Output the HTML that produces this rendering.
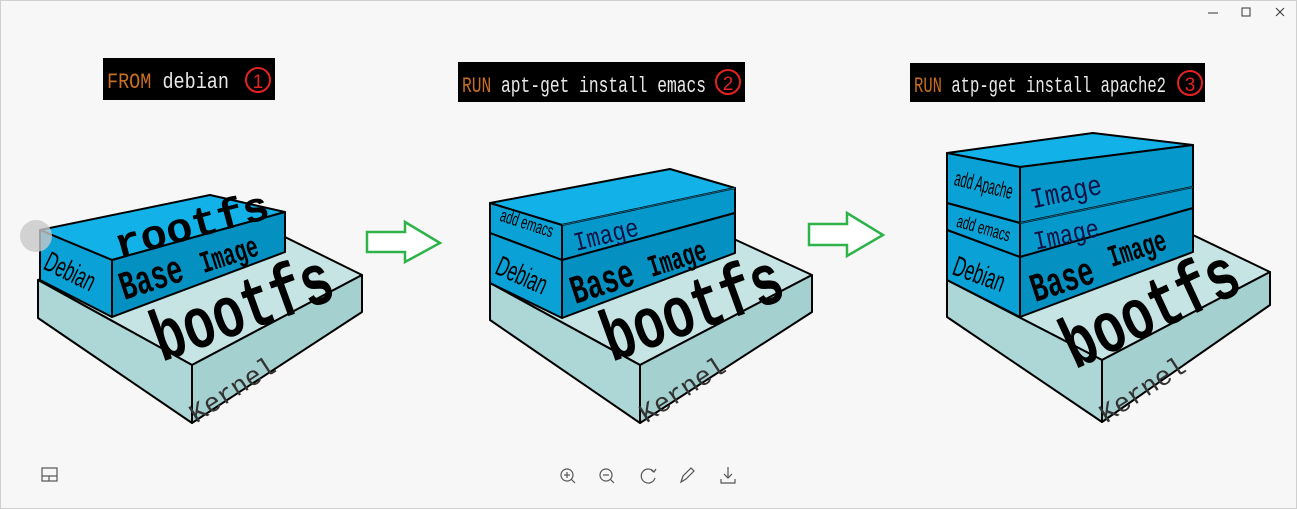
<!DOCTYPE html>
<html><head><meta charset="utf-8"><style>
html,body{margin:0;padding:0;background:#f7f7f8;}
svg{display:block}
.m{font-family:"Liberation Mono",monospace}
.s{font-family:"Liberation Sans",sans-serif}
</style></head><body>
<svg width="1297" height="509" viewBox="0 0 1297 509" xmlns="http://www.w3.org/2000/svg">
<rect x="0" y="0" width="1297" height="509" fill="#f7f7f8"/>
<rect x="0.5" y="0.5" width="1296" height="508" fill="none" stroke="#d0d0d0"/>
<g stroke="#333" stroke-width="1" fill="none">
<line x1="1208" y1="13" x2="1218" y2="13"/>
<rect x="1242" y="8" width="8" height="8"/>
<line x1="1276" y1="8" x2="1284" y2="16"/><line x1="1284" y1="8" x2="1276" y2="16"/>
</g>
<!-- headers -->
<rect x="103" y="58" width="172" height="42" fill="#000"/>
<text x="107" y="88" class="m" font-size="22" fill="#e8e8e8" textLength="122" lengthAdjust="spacingAndGlyphs"><tspan fill="#c86e1e">FROM</tspan> debian</text>
<circle cx="258" cy="80" r="12" fill="none" stroke="#e52222" stroke-width="2"/>
<text x="258" y="88" class="s" font-size="19" fill="#e52222" text-anchor="middle">1</text>

<rect x="458" y="62" width="287" height="40" fill="#000"/>
<text x="462" y="92" class="m" font-size="22" fill="#e8e8e8" textLength="244" lengthAdjust="spacingAndGlyphs"><tspan fill="#c86e1e">RUN</tspan> apt-get install emacs</text>
<circle cx="728" cy="82" r="12" fill="none" stroke="#e52222" stroke-width="2"/>
<text x="728" y="90" class="s" font-size="19" fill="#e52222" text-anchor="middle">2</text>

<rect x="910" y="63" width="295" height="39" fill="#000"/>
<text x="914" y="92" class="m" font-size="22" fill="#e8e8e8" textLength="252" lengthAdjust="spacingAndGlyphs"><tspan fill="#c86e1e">RUN</tspan> atp-get install apache2</text>
<circle cx="1190" cy="83" r="12" fill="none" stroke="#e52222" stroke-width="2"/>
<text x="1190" y="91" class="s" font-size="19" fill="#e52222" text-anchor="middle">3</text>

<!-- arrows -->
<polygon points="367,232 405,232 405,222 440,243 405,262 405,252 367,252" fill="#fff" stroke="#2db34a" stroke-width="2.5"/>
<polygon points="809,224 847,224 847,213 883,235 847,256 847,245 809,245" fill="#fff" stroke="#2db34a" stroke-width="2.5"/>

<g stroke="#000" stroke-width="2" stroke-linejoin="round">
<polygon points="38,280 210,200 362,275 192,365" fill="#c6e4e3"/>
<polygon points="38,280 192,365 192,423 38,318" fill="#add6d6"/>
<polygon points="192,365 362,275 362,312 192,423" fill="#a4d0cf"/>
<polygon points="40,230 210,195 285,212 112,260" fill="#12b2e8"/>
<polygon points="40,230 112,260 112,317 40,280" fill="#0aa2d6"/>
<polygon points="112,260 285,212 285,252 112,317" fill="#0590c2"/>

<polygon points="490,283 660,205 812,275 640,365" fill="#c6e4e3"/>
<polygon points="490,283 640,365 640,423 490,320" fill="#add6d6"/>
<polygon points="640,365 812,275 812,312 640,423" fill="#a4d0cf"/>
<polygon points="490,203 670,169 735,188 562,225" fill="#12b2e8"/>
<polygon points="490,203 562,225 562,260 490,233" fill="#0aa2d6"/>
<polygon points="490,233 562,260 562,318 490,283" fill="#0aa2d6"/>
<polygon points="562,225 735,188 735,213 562,260" fill="#0598cb"/>
<polygon points="562,260 735,213 735,253 562,318" fill="#0590c2"/>

<polygon points="947,280 1120,200 1270,272 1102,360" fill="#c6e4e3"/>
<polygon points="947,280 1102,360 1102,422 947,317" fill="#add6d6"/>
<polygon points="1102,360 1270,272 1270,305 1102,422" fill="#a4d0cf"/>
<polygon points="947,153 1093,133 1193,145 1020,167" fill="#12b2e8"/>
<polygon points="947,153 1020,167 1020,223 947,203" fill="#0aa2d6"/>
<polygon points="947,203 1020,223 1020,257 947,230" fill="#0aa2d6"/>
<polygon points="947,230 1020,257 1020,317 947,280" fill="#0aa2d6"/>
<polygon points="1020,167 1193,145 1193,187 1020,223" fill="#0598cb"/>
<polygon points="1020,223 1193,187 1193,208 1020,257" fill="#0598cb"/>
<polygon points="1020,257 1193,208 1193,252 1020,317" fill="#0590c2"/>
</g>
<g stroke="#0a6d92" stroke-width="1">
<line x1="1020" y1="223" x2="1193" y2="187"/>
<line x1="562" y1="225" x2="735" y2="188"/>
</g>

<!-- texts diagram 1 -->
<g class="m" font-weight="bold" fill="#000">
<text transform="translate(195,238) rotate(-15) scale(1,0.95)" font-size="44" text-anchor="middle">rootfs</text>
<text transform="translate(155,290) rotate(-18) scale(0.9,1.35)" font-size="30" text-anchor="middle">Base</text>
<text transform="translate(232,264) rotate(-18) scale(0.9,1.4)" font-size="22" text-anchor="middle">Image</text>
<text transform="translate(250,330) rotate(-20) scale(1,1.4)" font-size="52" text-anchor="middle">bootfs</text>
</g>
<text transform="translate(237,397) rotate(-33)" class="m" font-size="27" fill="#333" text-anchor="middle">Kernel</text>
<text transform="translate(66,280) rotate(26) scale(0.8,1.35)" class="s" font-size="21" fill="#000" text-anchor="middle">Debian</text>

<!-- texts diagram 2 -->
<g class="m" font-weight="bold" fill="#000">
<text transform="translate(606,294) rotate(-18) scale(0.9,1.35)" font-size="30" text-anchor="middle">Base</text>
<text transform="translate(680,268) rotate(-18) scale(0.9,1.4)" font-size="22" text-anchor="middle">Image</text>
<text transform="translate(700,330) rotate(-20) scale(1,1.4)" font-size="52" text-anchor="middle">bootfs</text>
</g>
<text transform="translate(608,243) rotate(-14) scale(1,1.2)" class="m" font-size="22" fill="#114" text-anchor="middle">Image</text>
<text transform="translate(687,397) rotate(-33)" class="m" font-size="27" fill="#333" text-anchor="middle">Kernel</text>
<text transform="translate(518,284) rotate(24) scale(0.8,1.35)" class="s" font-size="21" fill="#000" text-anchor="middle">Debian</text>
<text transform="translate(525,229) rotate(18) scale(0.8,1.3)" class="s" font-size="14" fill="#000" text-anchor="middle">add emacs</text>

<!-- texts diagram 3 -->
<g class="m" font-weight="bold" fill="#000">
<text transform="translate(1066,292) rotate(-18) scale(0.9,1.35)" font-size="30" text-anchor="middle">Base</text>
<text transform="translate(1140,258) rotate(-18) scale(0.9,1.4)" font-size="22" text-anchor="middle">Image</text>
<text transform="translate(1160,330) rotate(-25) scale(1,1.4)" font-size="52" text-anchor="middle">bootfs</text>
</g>
<text transform="translate(1068,243) rotate(-12) scale(1,1.2)" class="m" font-size="22" fill="#114" text-anchor="middle">Image</text>
<text transform="translate(1068,201) rotate(-12) scale(1,1.2)" class="m" font-size="24" fill="#114" text-anchor="middle">Image</text>
<text transform="translate(1147,397) rotate(-33)" class="m" font-size="27" fill="#333" text-anchor="middle">Kernel</text>
<text transform="translate(976,283) rotate(20) scale(0.8,1.35)" class="s" font-size="21" fill="#000" text-anchor="middle">Debian</text>
<text transform="translate(982,234) rotate(16) scale(0.8,1.3)" class="s" font-size="14" fill="#000" text-anchor="middle">add emacs</text>
<text transform="translate(982,192) rotate(14) scale(0.75,1.45)" class="s" font-size="15" fill="#000" text-anchor="middle">add Apache</text>

<circle cx="36" cy="236" r="16" fill="#c8c8c8" opacity="0.8"/>

<g stroke="#555" stroke-width="1.2" fill="none">
<rect x="42" y="468" width="15" height="13"/><line x1="42" y1="476" x2="57" y2="476"/><line x1="49" y1="476" x2="49" y2="481"/>
<circle cx="567" cy="475" r="6"/><line x1="571" y1="479" x2="575" y2="483"/><line x1="564" y1="475" x2="570" y2="475"/><line x1="567" y1="472" x2="567" y2="478"/>
<circle cx="606" cy="475" r="6"/><line x1="610" y1="479" x2="614" y2="483"/><line x1="603" y1="475" x2="609" y2="475"/>
<path d="M654 472 A7 7 0 1 0 655 478"/><polyline points="651,470 654,472 656,469"/>
<path d="M681 482 L683 476 L691 468 L694 471 L686 479 Z"/>
<line x1="728" y1="467" x2="728" y2="478"/><polyline points="724,474 728,478 732,474"/><polyline points="721,479 721,483 735,483 735,479"/>
</g>
</svg>
</body></html>
